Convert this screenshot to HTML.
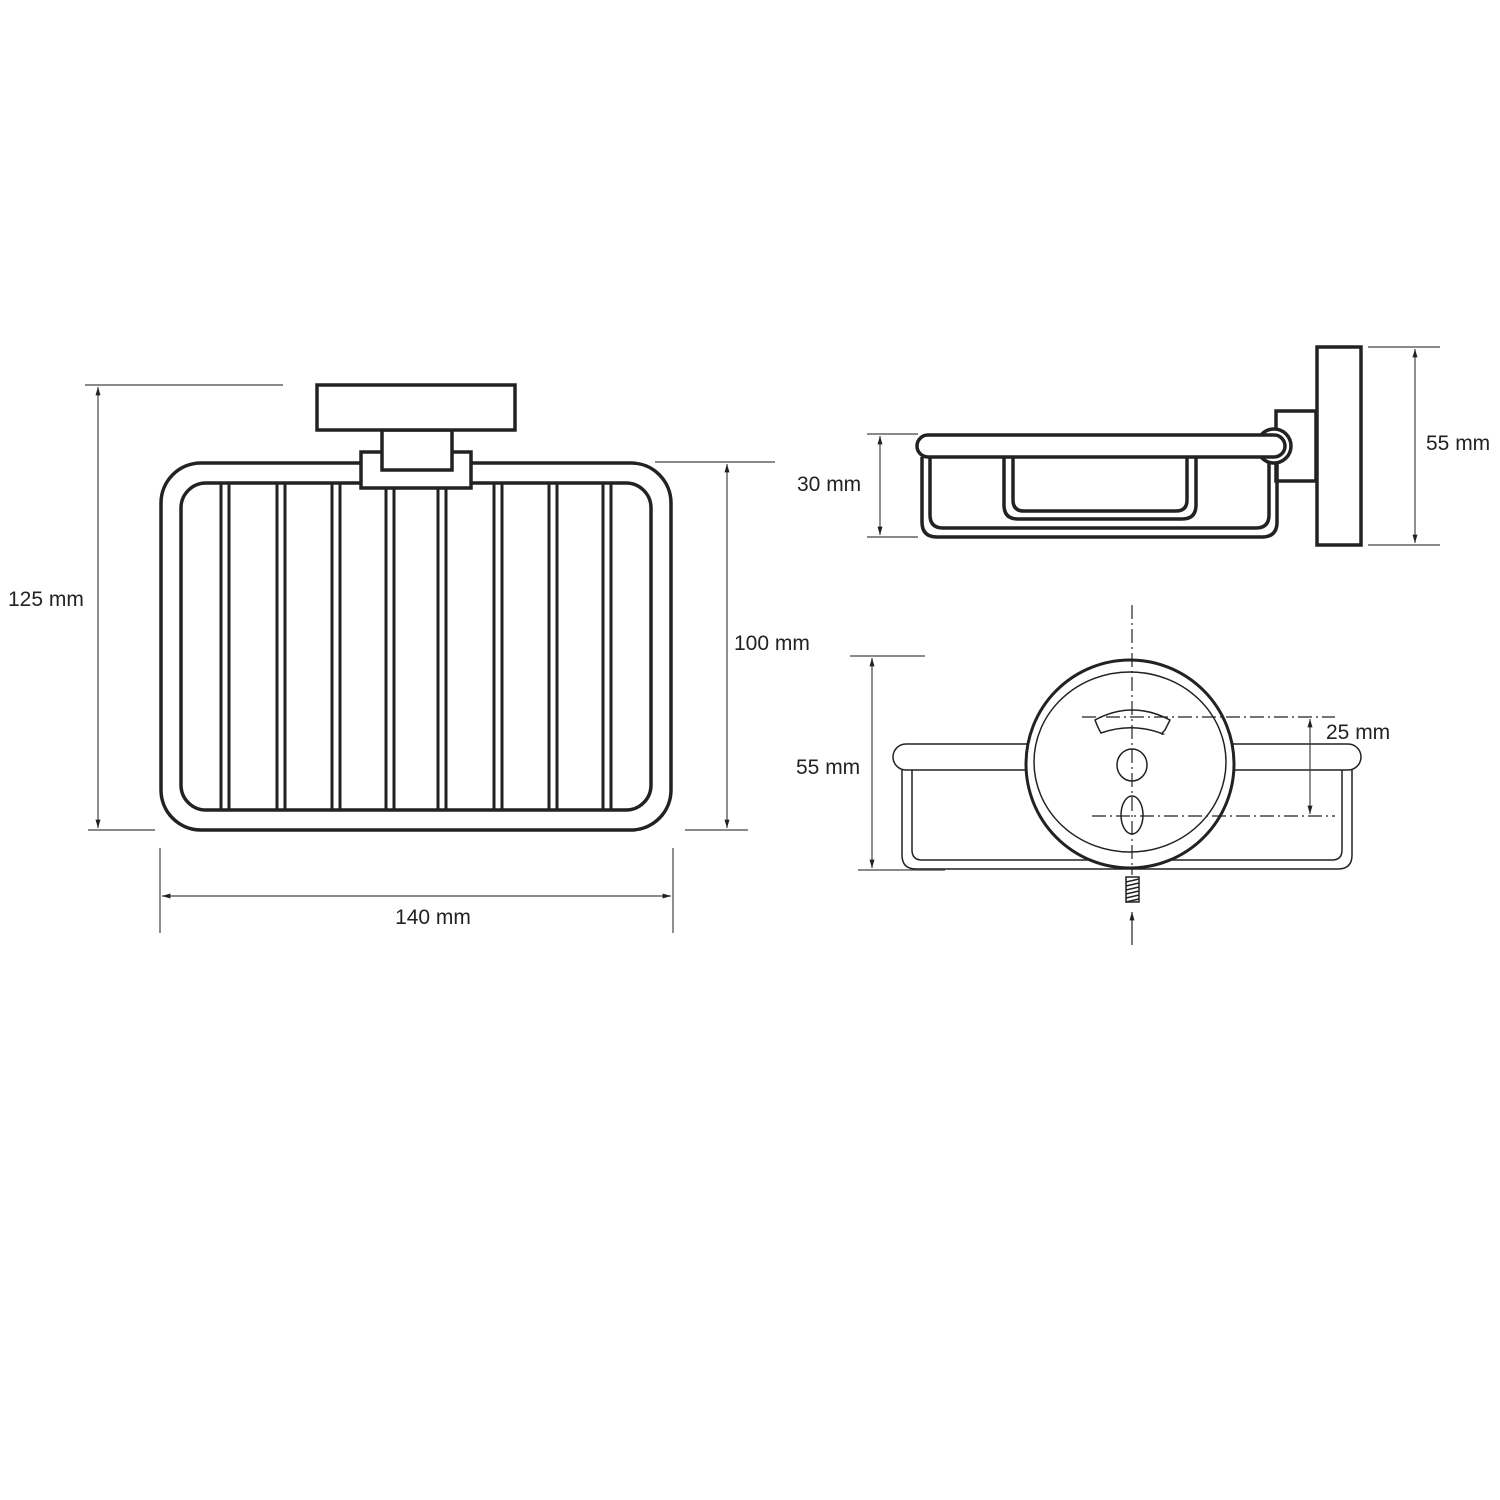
<!DOCTYPE html>
<html><head><style>html,body{margin:0;padding:0;background:#fff}svg{display:block}text{font-family:"Liberation Sans",sans-serif;font-size:21px;fill:#222}</style></head>
<body>
<svg width="1500" height="1500" viewBox="0 0 1500 1500" xmlns="http://www.w3.org/2000/svg">
<defs><marker id="a" viewBox="0 0 10 10" refX="10" refY="5" markerWidth="7" markerHeight="7" orient="auto-start-reverse"><path d="M0,2 L10,5 L0,8 z" fill="#222"/></marker></defs>
<g fill="none" stroke="#222" stroke-width="3.5">
<rect x="161" y="463" width="510" height="367" rx="40"/>
<rect x="181" y="483" width="470" height="327" rx="25"/>
<g stroke-width="3">
<line x1="221" y1="483" x2="221" y2="810"/><line x1="229" y1="483" x2="229" y2="810"/>
<line x1="277" y1="483" x2="277" y2="810"/><line x1="285" y1="483" x2="285" y2="810"/>
<line x1="332" y1="483" x2="332" y2="810"/><line x1="340" y1="483" x2="340" y2="810"/>
<line x1="386" y1="488" x2="386" y2="810"/><line x1="394" y1="488" x2="394" y2="810"/>
<line x1="438" y1="488" x2="438" y2="810"/><line x1="446" y1="488" x2="446" y2="810"/>
<line x1="494" y1="483" x2="494" y2="810"/><line x1="502" y1="483" x2="502" y2="810"/>
<line x1="549" y1="483" x2="549" y2="810"/><line x1="557" y1="483" x2="557" y2="810"/>
<line x1="603" y1="483" x2="603" y2="810"/><line x1="611" y1="483" x2="611" y2="810"/>
</g>
<rect x="361" y="452" width="110" height="36" fill="#fff"/>
<rect x="382" y="430" width="70" height="40" fill="#fff"/>
<rect x="317" y="385" width="198" height="45" fill="#fff"/>
<rect x="1317" y="347" width="44" height="198"/>
<rect x="1276" y="411" width="40" height="70"/>
<path d="M922,457 V522 Q922,537 937,537 H1262 Q1277,537 1277,522 V457"/>
<path d="M930,457 V515 Q930,528 943,528 H1256 Q1269,528 1269,515 V457"/>
<path d="M1004,457 V505 Q1004,519 1018,519 H1182 Q1196,519 1196,505 V457"/>
<path d="M1013,457 V500 Q1013,511 1024,511 H1176 Q1187,511 1187,500 V457"/>
<circle cx="1274" cy="446" r="17" fill="#fff"/>
<rect x="917" y="435" width="368" height="22" rx="11" fill="#fff"/>
</g>
<g fill="none" stroke="#222" stroke-width="1.5">
<path d="M902,770 V855 Q902,869 916,869 H1338 Q1352,869 1352,855 V770"/>
<path d="M912,770 V850 Q912,860 922,860 H1332 Q1342,860 1342,850 V770"/>
<rect x="893" y="744" width="468" height="26" rx="13" fill="#fff"/>
<circle cx="1130" cy="764" r="104" fill="#fff" stroke-width="3"/>
<ellipse cx="1130" cy="762" rx="96" ry="90"/>
<path d="M1095,720 Q1132,700 1170,720 L1165,730 Q1160,735 1163,734 Q1132,722 1101,733 Q1098,728 1095,720 z"/>
<ellipse cx="1132" cy="765" rx="15" ry="16"/>
<ellipse cx="1132" cy="815" rx="11" ry="19"/>
<rect x="1126" y="877" width="13" height="25"/>
<path d="M1126,882 L1139,879 M1126,886 L1139,883 M1126,890 L1139,887 M1126,894 L1139,891 M1126,898 L1139,895 M1126,902 L1139,899"/>
<g stroke-width="1.2" stroke-dasharray="14,4,2,4">
<line x1="1132" y1="605" x2="1132" y2="875"/>
<line x1="1082" y1="717" x2="1335" y2="717"/>
<line x1="1092" y1="816" x2="1335" y2="816"/>
</g>
<line x1="1132" y1="945" x2="1132" y2="912" stroke-width="1.2" marker-end="url(#a)"/>
</g>
<g fill="none" stroke="#444" stroke-width="1.2">
<line x1="85" y1="385" x2="283" y2="385"/><line x1="88" y1="830" x2="155" y2="830"/>
<line x1="98" y1="387" x2="98" y2="828" marker-start="url(#a)" marker-end="url(#a)"/>
<line x1="655" y1="462" x2="775" y2="462"/><line x1="685" y1="830" x2="748" y2="830"/>
<line x1="727" y1="464" x2="727" y2="828" marker-start="url(#a)" marker-end="url(#a)"/>
<line x1="160" y1="848" x2="160" y2="933"/><line x1="673" y1="848" x2="673" y2="933"/>
<line x1="162" y1="896" x2="671" y2="896" marker-start="url(#a)" marker-end="url(#a)"/>
<line x1="867" y1="434" x2="918" y2="434"/><line x1="867" y1="537" x2="918" y2="537"/>
<line x1="880" y1="436" x2="880" y2="535" marker-start="url(#a)" marker-end="url(#a)"/>
<line x1="1368" y1="347" x2="1440" y2="347"/><line x1="1368" y1="545" x2="1440" y2="545"/>
<line x1="1415" y1="349" x2="1415" y2="543" marker-start="url(#a)" marker-end="url(#a)"/>
<line x1="850" y1="656" x2="925" y2="656"/><line x1="858" y1="870" x2="945" y2="870"/>
<line x1="872" y1="658" x2="872" y2="868" marker-start="url(#a)" marker-end="url(#a)"/>
<line x1="1310" y1="719" x2="1310" y2="814" marker-start="url(#a)" marker-end="url(#a)"/>
</g>
<text x="8" y="606">125 mm</text>
<text x="734" y="650">100 mm</text>
<text x="433" y="924" text-anchor="middle">140 mm</text>
<text x="797" y="491">30 mm</text>
<text x="1426" y="450">55 mm</text>
<text x="796" y="774">55 mm</text>
<text x="1326" y="739">25 mm</text>
</svg>
</body></html>
